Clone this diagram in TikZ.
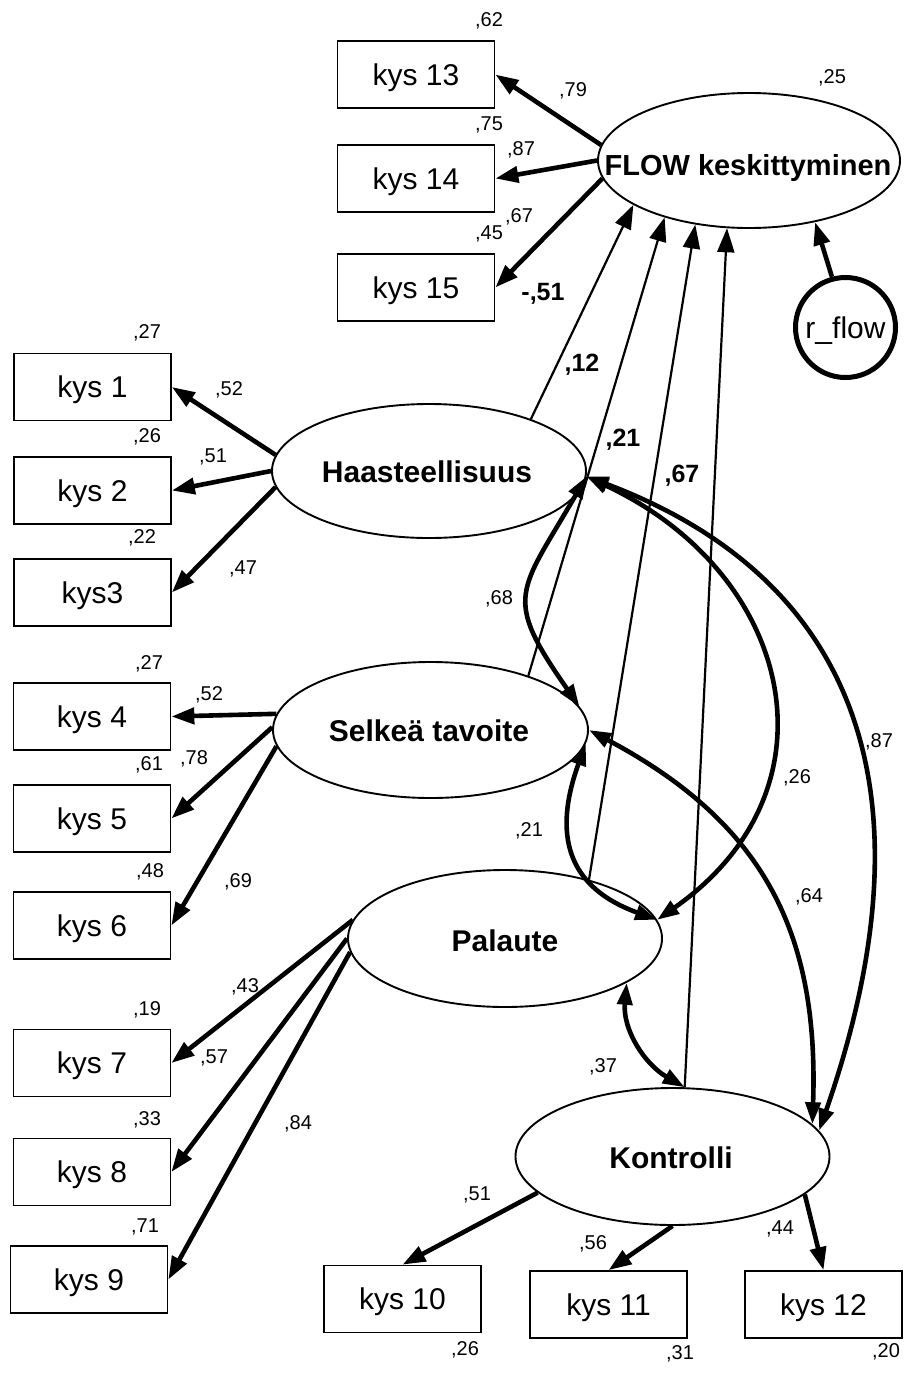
\documentclass[tikz,border=0pt]{standalone}
\usepackage{fontspec}
\setmainfont{Liberation Sans}
\usetikzlibrary{arrows.meta,shapes.geometric}
\newcommand\fsz[1]{\fontsize{#1}{#1}\selectfont}
\tikzset{
  obs/.style={draw, line width=1.7pt, minimum width=157pt, minimum height=67pt,
    inner sep=0pt, font=\fsz{30}, text height=21.5pt, text depth=0pt},
  lat/.style={draw, ellipse, line width=1.9pt, inner sep=0pt},
  latname/.style={font=\bfseries\fsz{30}, inner sep=0pt, text height=21.5pt, text depth=0pt},
  coef/.style={font=\fsz{20}, inner sep=0pt, text height=14.4pt, text depth=0pt},
  pcoef/.style={font=\bfseries\fsz{25}, inner sep=0pt, text height=18pt, text depth=0pt},
  load/.style={line width=4.6pt, -{Triangle[length=23pt,width=16pt]}},
  reg/.style={line width=2.2pt, -{Triangle[length=24pt,width=17pt]}},
  cov/.style={line width=4.6pt, {Triangle[length=22pt,width=15pt]}-{Triangle[length=22pt,width=15pt]}},
}
\begin{document}
\begin{tikzpicture}[x=1pt,y=1pt]
\fill[white] (0,0) rectangle (903,-1374);
\useasboundingbox (0,0) rectangle (903,-1374);

% observed items
\node[obs] (k13) at (416,-74.5) {kys 13};
\node[obs] (k14) at (416,-178.5) {kys 14};
\node[obs] (k15) at (416,-287.5) {kys 15};
\node[obs] (k1) at (92.5,-387) {kys 1};
\node[obs] (k2) at (92.5,-490.5) {kys 2};
\node[obs] (k3) at (92.5,-592.5) {kys3};
\node[obs] (k4) at (92,-716.5) {kys 4};
\node[obs] (k5) at (92,-818.5) {kys 5};
\node[obs] (k6) at (92,-925.5) {kys 6};
\node[obs] (k7) at (92,-1063) {kys 7};
\node[obs] (k8) at (92,-1172) {kys 8};
\node[obs] (k9) at (89,-1279.5) {kys 9};
\node[obs] (k10) at (402.5,-1299) {kys 10};
\node[obs] (k11) at (608.5,-1304.5) {kys 11};
\node[obs] (k12) at (823.5,-1304.5) {kys 12};

% latent factors
\node[lat, minimum width=302pt, minimum height=135pt] (flow) at (749,-160.5) {};
\node[latname, font=\bfseries\fsz{29}] (flowname) at (748,-165) {FLOW keskittyminen};
\node[lat, minimum width=314pt, minimum height=134pt] (haast) at (429,-471) {};
\node[latname] (haastname) at (427,-472) {Haasteellisuus};
\node[lat, minimum width=315pt, minimum height=136pt] (selk) at (430.5,-730) {};
\node[latname] (selkname) at (429,-730.5) {Selkeä tavoite};
\node[lat, minimum width=314pt, minimum height=137pt] (pal) at (505,-938.5) {};
\node[latname] (palname) at (505,-940.5) {Palaute};
\node[lat, minimum width=314pt, minimum height=137pt] (kon) at (672.5,-1156.5) {};
\node[latname] (konname) at (671,-1158) {Kontrolli};
\node[draw, circle, line width=5pt, minimum size=100pt, inner sep=0pt,
  font=\fsz{30}, text height=21.5pt, text depth=0pt] (rflow) at (845.5,-327.5) {r\_flow};

% loadings
\draw[load] (flow.174) -- (k13.east);
\draw[load] (flow.180) -- (k14.east);
\draw[load] (flow.187) -- (k15.east);
\draw[load] (haast.174) -- (k1.east);
\draw[load] (haast.180) -- (k2.east);
\draw[load] (haast.186) -- (k3.east);
\draw[load] (selk.174) -- (k4.east);
\draw[load] (selk.179) -- (k5.east);
\draw[load] (selk.186) -- (k6.east);
\draw[load] (pal.173) -- (k7.east);
\draw[load] (pal.180) -- (k8.east);
\draw[load] (pal.185) -- (k9.east);
\draw[load] (kon.195) -- (k10.north);
\draw[load] (kon.270) -- (k11.north);
\draw[load] (kon.344) -- (k12.north);

% structural paths
\draw[reg] (haast.27) -- (flow.201);
\draw[reg] (selk.29) -- (flow.214);
\draw[reg] (pal.35) -- (flow.230);
\draw[reg] (kon.80) -- (flow.252);
\draw[load] (rflow.105) -- (flow.317);

% covariances
\draw[cov] (haast.358) to[out=240,in=125,looseness=1.5] (selk.9);
\draw[cov] (selk.355) to[out=250,in=160,looseness=1.3] (pal.7);
\draw[cov] (haast.358) to[out=-25,in=35,looseness=1.3] (pal.7);
\draw[cov] (haast.358) .. controls +(253,-95) and +(125,359) .. (kon.10);
\draw[cov] (selk.0) to[out=-28,in=88,looseness=1.1] (kon.13);
\draw[cov] (pal.340) to[out=-95,in=150] (kon.80);

% coefficients
\node[coef] (c1) at (489,-19) {,62};
\node[coef] (c2) at (573,-89) {,79};
\node[coef] (c3) at (832,-76) {,25};
\node[coef] (c4) at (489,-123) {,75};
\node[coef] (c5) at (521,-148) {,87};
\node[coef] (c6) at (519,-215) {,67};
\node[coef] (c7) at (489,-232) {,45};
\node[coef] (c8) at (147,-331) {,27};
\node[coef] (c9) at (229,-388) {,52};
\node[coef] (c10) at (147,-435) {,26};
\node[coef] (c11) at (213,-455) {,51};
\node[coef] (c12) at (142,-536) {,22};
\node[coef] (c13) at (243,-567) {,47};
\node[coef] (c14) at (499,-597) {,68};
\node[coef] (c15) at (149,-662) {,27};
\node[coef] (c16) at (209,-693) {,52};
\node[coef] (c17) at (149,-763) {,61};
\node[coef] (c18) at (194,-757) {,78};
\node[coef] (c19) at (150,-870) {,48};
\node[coef] (c20) at (238,-880) {,69};
\node[coef] (c21) at (245,-985) {,43};
\node[coef] (c22) at (147,-1008) {,19};
\node[coef] (c23) at (214,-1056) {,57};
\node[coef] (c24) at (147,-1118) {,33};
\node[coef] (c25) at (298,-1122) {,84};
\node[coef] (c26) at (145,-1225) {,71};
\node[coef] (c27) at (603,-1065) {,37};
\node[coef] (c28) at (477,-1193) {,51};
\node[coef] (c29) at (593,-1242) {,56};
\node[coef] (c30) at (780,-1227) {,44};
\node[coef] (c31) at (465,-1348) {,26};
\node[coef] (c32) at (680,-1352) {,31};
\node[coef] (c33) at (886,-1350) {,20};
\node[coef] (c34) at (879,-740) {,87};
\node[coef] (c35) at (797,-776) {,26};
\node[coef] (c36) at (529,-829) {,21};
\node[coef] (c37) at (809,-895) {,64};
\node[pcoef] (p1) at (582,-362) {,12};
\node[pcoef] (p2) at (623,-437) {,21};
\node[pcoef] (p3) at (682,-473) {,67};
\node[pcoef] (p4) at (543,-291) {-,51};
\end{tikzpicture}
\end{document}
